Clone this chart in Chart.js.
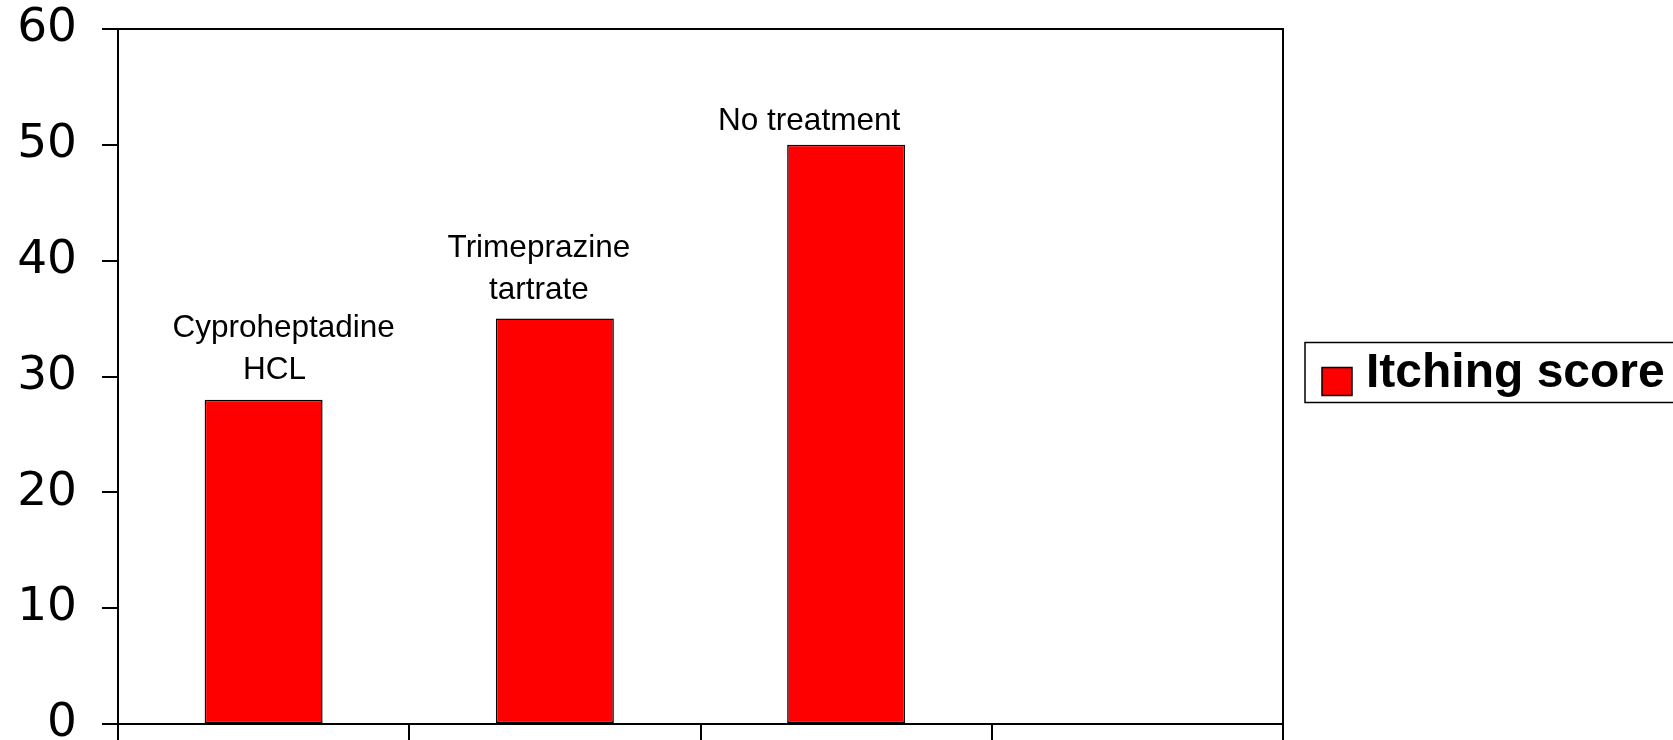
<!DOCTYPE html>
<html>
<head>
<meta charset="utf-8">
<script src="https://cdn.jsdelivr.net/npm/chart.js@4/dist/chart.umd.min.js"></script>
<style>
  html, body { margin: 0; padding: 0; background: #fff; }
  #wrap { width: 1673px; height: 740px; position: relative; }
</style>
</head>
<body>
<div id="wrap"><canvas id="itchChart"></canvas></div>
<script>
// data
const categories = ['Cyproheptadine\nHCL', 'Trimeprazine\ntartrate', 'No treatment', ''];
const itchingScore = [28, 35, 50, null];
const seriesName = 'Itching score';
const yTicks = [0, 10, 20, 30, 40, 50, 60];

// frame round the plot area
const framePlugin = {
  id: 'frame',
  afterDraw(chart) {
    const { ctx, chartArea: a } = chart;
    ctx.save();
    ctx.strokeStyle = '#000';
    ctx.lineWidth = 2;
    ctx.strokeRect(a.left, a.top, a.right - a.left, a.bottom - a.top);
    ctx.restore();
  }
};

// category names written above each bar (hand placed in the original, so nudged a bit)
const nameShiftX = [[20, 11], [-16, -16], [-37]];
const nameGap = [21, 20, 15];
const barNamesPlugin = {
  id: 'barNames',
  afterDatasetsDraw(chart) {
    const { ctx } = chart;
    const meta = chart.getDatasetMeta(0);
    ctx.save();
    ctx.font = '31.5px "Liberation Sans", Arial, sans-serif';
    ctx.fillStyle = '#000';
    ctx.textAlign = 'center';
    ctx.textBaseline = 'alphabetic';
    meta.data.forEach((bar, i) => {
      if (itchingScore[i] == null) return;
      const lines = categories[i].split('\n');
      lines.forEach((line, k) => {
        const y = bar.y - nameGap[i] - (lines.length - 1 - k) * 42;
        ctx.fillText(line, bar.x + nameShiftX[i][k], y);
      });
    });
    ctx.restore();
  }
};

// boxed legend on the right
const boxLegendPlugin = {
  id: 'boxLegend',
  afterDraw(chart) {
    const { ctx, chartArea: a } = chart;
    const ds = chart.data.datasets[0];
    const left = a.right + 22;
    const midY = (a.top + a.bottom) / 2 - 4;
    ctx.save();
    ctx.strokeStyle = '#000';
    ctx.lineWidth = 1.5;
    ctx.strokeRect(left, midY - 30, 400, 60);
    ctx.fillStyle = ds.backgroundColor;
    ctx.fillRect(left + 17, midY - 5, 30, 28);
    ctx.strokeRect(left + 17, midY - 5, 30, 28);
    ctx.fillStyle = '#000';
    ctx.font = 'bold 48px "Liberation Sans", Arial, sans-serif';
    ctx.textAlign = 'left';
    ctx.textBaseline = 'alphabetic';
    ctx.fillText(ds.label, left + 61, midY + 14);
    ctx.restore();
  }
};

const ctx = document.getElementById('itchChart').getContext('2d');
new Chart(ctx, {
  type: 'bar',
  data: {
    labels: categories,
    datasets: [{
      label: seriesName,
      data: itchingScore,
      backgroundColor: '#ff0000',
      borderColor: '#000',
      borderWidth: 1.5,
      borderSkipped: false,
      categoryPercentage: 1,
      barPercentage: 0.405
    }]
  },
  options: {
    responsive: true,
    maintainAspectRatio: false,
    animation: false,
    layout: { padding: { top: 29, right: 390, left: 0, bottom: 0 } },
    plugins: {
      legend: { display: false },
      tooltip: { enabled: false }
    },
    scales: {
      x: {
        type: 'category',
        offset: true,
        ticks: { display: false },
        grid: {
          offset: true,
          drawOnChartArea: false,
          drawTicks: true,
          tickLength: 16,
          color: '#000',
          lineWidth: 2
        },
        border: { display: true, color: '#000', width: 2 },
        afterFit(scale) {
          scale.height = 16;
          scale.paddingLeft = 0;
          scale.paddingRight = 0;
        }
      },
      y: {
        min: yTicks[0],
        max: yTicks[yTicks.length - 1],
        afterBuildTicks(scale) {
          scale.ticks = yTicks.map(v => ({ value: v }));
        },
        ticks: {
          color: '#000',
          padding: 25,
          font: { family: '"DejaVu Sans", Verdana, sans-serif', size: 47 }
        },
        grid: {
          drawOnChartArea: false,
          drawTicks: true,
          tickLength: 16,
          color: '#000',
          lineWidth: 2
        },
        border: { display: true, color: '#000', width: 2 },
        afterFit(scale) {
          scale.width = 118;
          scale.paddingTop = 0;
          scale.paddingBottom = 0;
        }
      }
    }
  },
  plugins: [framePlugin, barNamesPlugin, boxLegendPlugin]
});
</script>
</body>
</html>
